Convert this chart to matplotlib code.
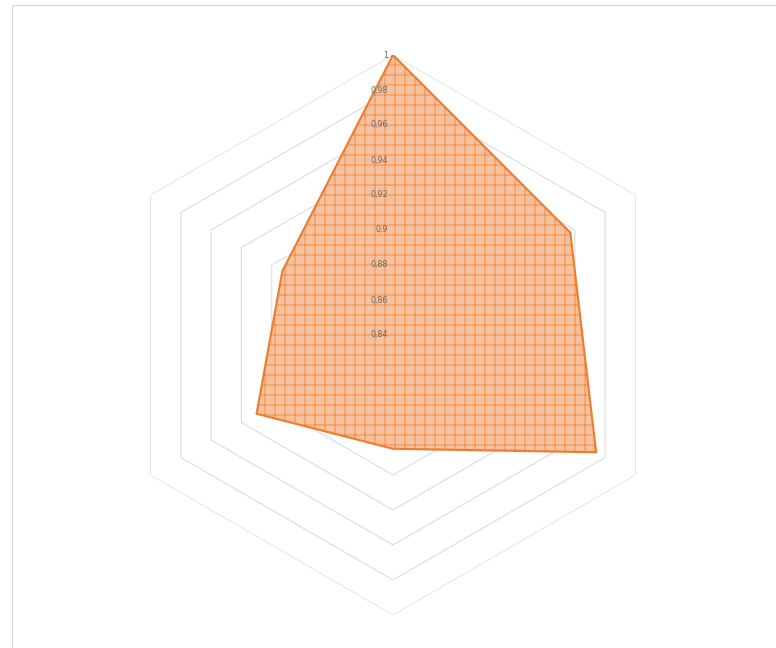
import numpy as np
import matplotlib.pyplot as plt
from matplotlib.patches import Rectangle
from matplotlib.transforms import offset_copy

# values of the six (unlabelled) spokes, clockwise from the top
values = [1.0, 0.957, 0.974, 0.905, 0.930, 0.913]
ring_values = [0.86, 0.88, 0.90, 0.92, 0.94, 0.96, 0.98, 1.0]
tick_values = [1.0, 0.98, 0.96, 0.94, 0.92, 0.90, 0.88, 0.86, 0.84]
tick_labels = ['1', '0,98', '0,96', '0,94', '0,92', '0,9', '0,88', '0,86', '0,84']
r_min, r_max = 0.84, 1.0

DPI = 120
fig = plt.figure(figsize=(776 / DPI, 648 / DPI), dpi=DPI)
plt.rcParams['hatch.linewidth'] = 0.55

# chart area border (cropped at the right and bottom)
fig.patches.append(Rectangle((12 / 776, -0.1), 1.2, 1.1 - 5 / 648,
                             transform=fig.transFigure, fill=False,
                             edgecolor='#D9D9D9', linewidth=0.7))

ax = fig.add_axes([113 / 776, 33 / 648, 560 / 776, 560 / 648], projection='polar')
ax.set_theta_offset(np.pi / 2)
ax.set_theta_direction(-1)
ax.set_ylim(r_min, r_max)
ax.grid(False)
ax.spines['polar'].set_visible(False)
ax.set_xticks([])
ax.set_yticks([])
ax.patch.set_alpha(0)

n = len(values)
angles = np.linspace(0, 2 * np.pi, n, endpoint=False)
closed_angles = np.append(angles, angles[0])

# hexagonal grid rings
for rv in ring_values:
    col = '#E6E6E6' if rv == 1.0 else '#D9D9D9'
    ax.plot(closed_angles, [rv] * (n + 1), color=col, linewidth=0.6, zorder=1)

# data polygon
closed_vals = np.append(values, values[0])
ax.fill(closed_angles, closed_vals, facecolor='#F6BC94', edgecolor='#F0883F',
        hatch='++', linewidth=0, alpha=0.92, zorder=2)
ax.plot(closed_angles, closed_vals, color='#ED7D31', linewidth=1.3, zorder=3)

# radial axis labels
trans = offset_copy(ax.transData, fig=fig, x=-5, y=0, units='dots')
for tv, tl in zip(tick_values, tick_labels):
    ax.text(0, tv, tl, transform=trans, ha='right', va='center',
            fontsize=4.8, color='#6B6B6B', zorder=4)

plt.savefig('out.png', dpi=DPI)
